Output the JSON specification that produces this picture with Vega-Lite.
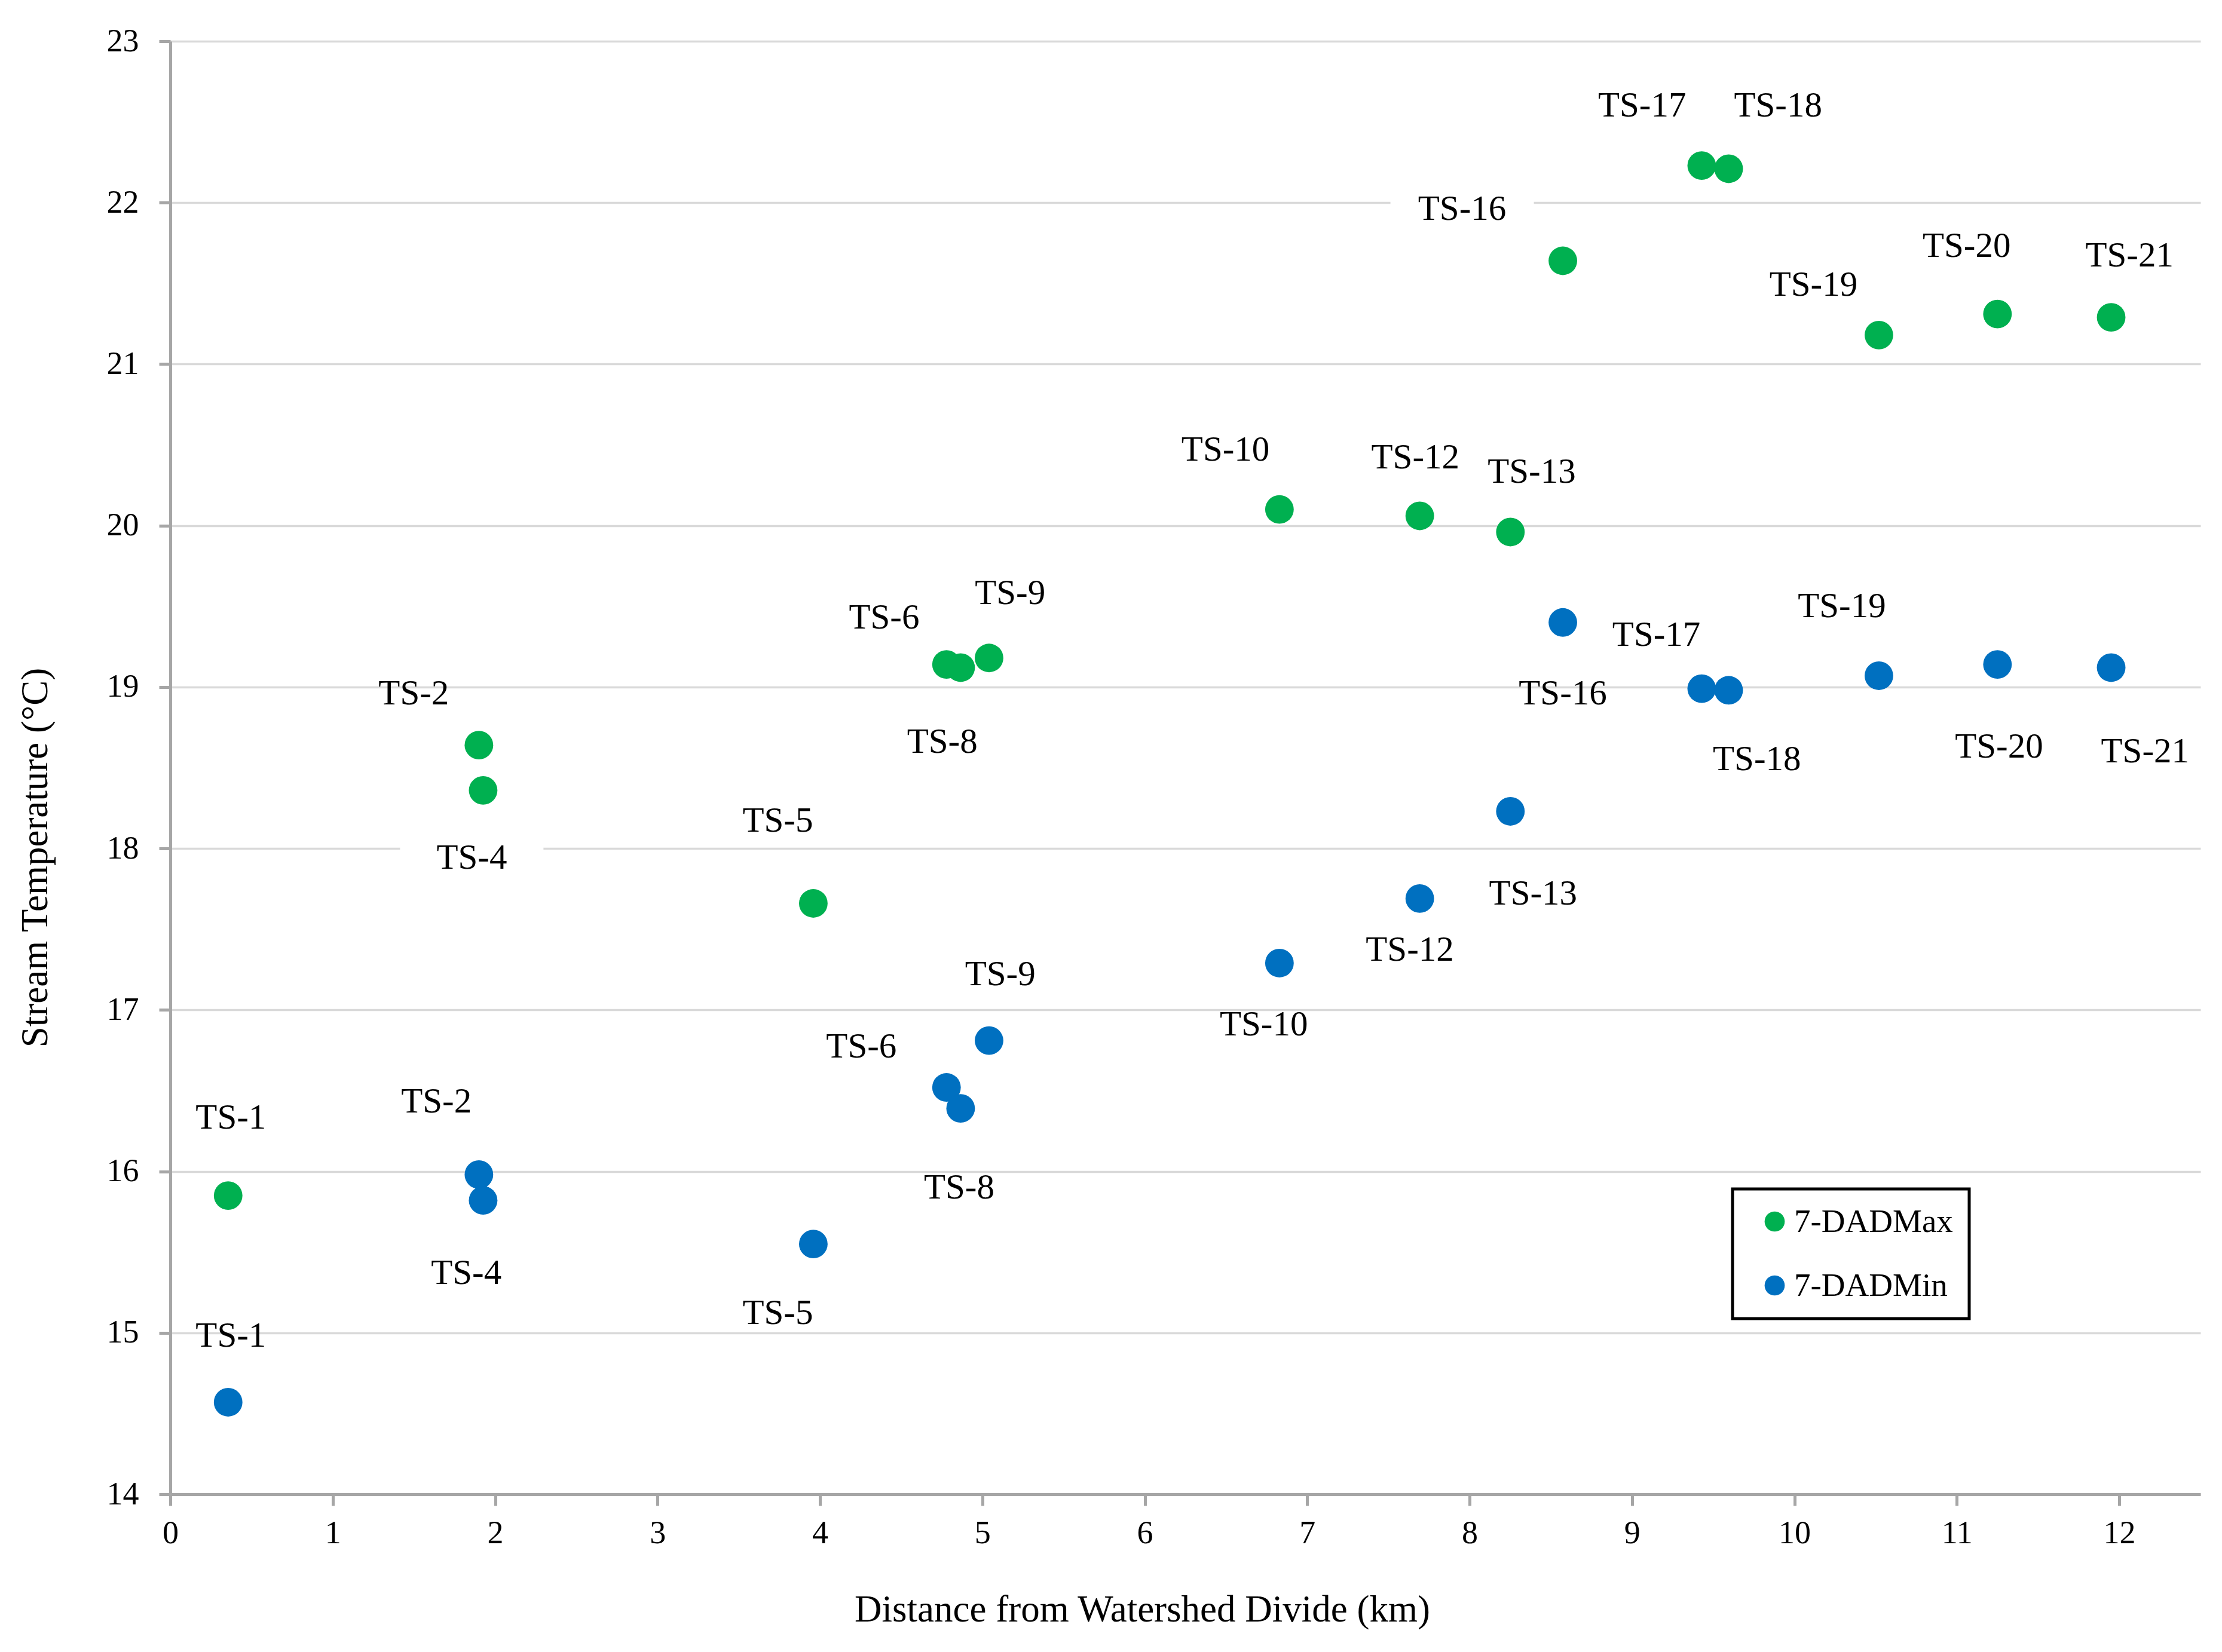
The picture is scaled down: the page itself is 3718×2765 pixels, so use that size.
{
  "$schema": "https://vega.github.io/schema/vega-lite/v6.json",
  "autosize": {"type": "none"},
  "padding": {"left": 285, "top": 69, "right": 36, "bottom": 264},
  "width": 3397,
  "height": 2432,
  "background": "white",
  "config": {
    "view": {"stroke": null},
    "font": "Liberation Serif",
    "axis": {
      "domainColor": "#a6a6a6",
      "domainWidth": 5,
      "tickColor": "#a6a6a6",
      "tickWidth": 5,
      "tickSize": 19,
      "labelFont": "Liberation Serif",
      "labelFontSize": 54,
      "labelColor": "black",
      "labelFlush": false,
      "titleFont": "Liberation Serif",
      "titleFontSize": 63,
      "titleFontWeight": "normal",
      "titleColor": "black",
      "gridColor": "#d9d9d9",
      "gridWidth": 3.5
    },
    "legend": {"strokeWidth": 5}
  },
  "data": {
    "values": [
      {"site": "TS-1", "series": "7-DADMax", "dist": 0.356, "temp": 15.85, "lx": 0.373, "ly": 16.33},
      {"site": "TS-2", "series": "7-DADMax", "dist": 1.900, "temp": 18.64, "lx": 1.499, "ly": 18.96},
      {"site": "TS-4", "series": "7-DADMax", "dist": 1.926, "temp": 18.36, "lx": 1.856, "ly": 17.94},
      {"site": "TS-5", "series": "7-DADMax", "dist": 3.959, "temp": 17.66, "lx": 3.740, "ly": 18.17},
      {"site": "TS-6", "series": "7-DADMax", "dist": 4.779, "temp": 19.14, "lx": 4.395, "ly": 19.43},
      {"site": "TS-8", "series": "7-DADMax", "dist": 4.866, "temp": 19.12, "lx": 4.753, "ly": 18.66},
      {"site": "TS-9", "series": "7-DADMax", "dist": 5.041, "temp": 19.18, "lx": 5.171, "ly": 19.58},
      {"site": "TS-10", "series": "7-DADMax", "dist": 6.829, "temp": 20.10, "lx": 6.497, "ly": 20.47},
      {"site": "TS-12", "series": "7-DADMax", "dist": 7.693, "temp": 20.06, "lx": 7.666, "ly": 20.42},
      {"site": "TS-13", "series": "7-DADMax", "dist": 8.251, "temp": 19.96, "lx": 8.382, "ly": 20.33},
      {"site": "TS-16", "series": "7-DADMax", "dist": 8.574, "temp": 21.64, "lx": 7.954, "ly": 21.96},
      {"site": "TS-17", "series": "7-DADMax", "dist": 9.429, "temp": 22.23, "lx": 9.062, "ly": 22.60},
      {"site": "TS-18", "series": "7-DADMax", "dist": 9.595, "temp": 22.21, "lx": 9.899, "ly": 22.60},
      {"site": "TS-19", "series": "7-DADMax", "dist": 10.52, "temp": 21.18, "lx": 10.117, "ly": 21.49},
      {"site": "TS-20", "series": "7-DADMax", "dist": 11.25, "temp": 21.31, "lx": 11.06, "ly": 21.73},
      {"site": "TS-21", "series": "7-DADMax", "dist": 11.95, "temp": 21.29, "lx": 12.063, "ly": 21.67},
      {"site": "TS-1", "series": "7-DADMin", "dist": 0.356, "temp": 14.57, "lx": 0.373, "ly": 14.98},
      {"site": "TS-2", "series": "7-DADMin", "dist": 1.900, "temp": 15.98, "lx": 1.638, "ly": 16.43},
      {"site": "TS-4", "series": "7-DADMin", "dist": 1.926, "temp": 15.82, "lx": 1.822, "ly": 15.37},
      {"site": "TS-5", "series": "7-DADMin", "dist": 3.959, "temp": 15.55, "lx": 3.740, "ly": 15.12},
      {"site": "TS-6", "series": "7-DADMin", "dist": 4.779, "temp": 16.52, "lx": 4.255, "ly": 16.77},
      {"site": "TS-8", "series": "7-DADMin", "dist": 4.866, "temp": 16.39, "lx": 4.857, "ly": 15.90},
      {"site": "TS-9", "series": "7-DADMin", "dist": 5.041, "temp": 16.81, "lx": 5.110, "ly": 17.22},
      {"site": "TS-10", "series": "7-DADMin", "dist": 6.829, "temp": 17.29, "lx": 6.733, "ly": 16.91},
      {"site": "TS-12", "series": "7-DADMin", "dist": 7.693, "temp": 17.69, "lx": 7.632, "ly": 17.37},
      {"site": "TS-13", "series": "7-DADMin", "dist": 8.251, "temp": 18.23, "lx": 8.391, "ly": 17.72},
      {"site": "TS-16", "series": "7-DADMin", "dist": 8.574, "temp": 19.40, "lx": 8.574, "ly": 18.96},
      {"site": "TS-17", "series": "7-DADMin", "dist": 9.429, "temp": 18.99, "lx": 9.150, "ly": 19.32},
      {"site": "TS-18", "series": "7-DADMin", "dist": 9.595, "temp": 18.98, "lx": 9.769, "ly": 18.55},
      {"site": "TS-19", "series": "7-DADMin", "dist": 10.52, "temp": 19.07, "lx": 10.292, "ly": 19.50},
      {"site": "TS-20", "series": "7-DADMin", "dist": 11.25, "temp": 19.14, "lx": 11.260, "ly": 18.63},
      {"site": "TS-21", "series": "7-DADMin", "dist": 11.95, "temp": 19.12, "lx": 12.159, "ly": 18.60}
    ]
  },
  "layer": [
    {
      "transform": [
        {"filter": "datum.series == '7-DADMax' && indexof(['TS-4', 'TS-5', 'TS-16'], datum.site) >= 0"}
      ],
      "mark": {
        "type": "point",
        "shape": "M-1,-0.35H1V0.35H-1Z",
        "filled": true,
        "fill": "white",
        "opacity": 1,
        "strokeWidth": 0,
        "size": 57600
      },
      "encoding": {
        "x": {"field": "lx", "type": "quantitative"},
        "y": {"field": "ly", "type": "quantitative"}
      }
    },
    {
      "mark": {"type": "point", "filled": true, "shape": "circle", "opacity": 1, "size": 2290},
      "encoding": {
        "x": {
          "field": "dist",
          "type": "quantitative",
          "title": "Distance from Watershed Divide (km)",
          "scale": {"domain": [0, 12.5], "nice": false, "zero": false},
          "axis": {
            "values": [0, 1, 2, 3, 4, 5, 6, 7, 8, 9, 10, 11, 12],
            "format": "d",
            "grid": false,
            "labelPadding": 19,
            "titleX": 1626,
            "titleY": 212,
            "titleAnchor": null,
            "titleAlign": "center",
            "titleBaseline": "alphabetic"
          }
        },
        "y": {
          "field": "temp",
          "type": "quantitative",
          "title": "Stream Temperature (°C)",
          "scale": {"domain": [14, 23], "nice": false, "zero": false},
          "axis": {
            "values": [14, 15, 16, 17, 18, 19, 20, 21, 22, 23],
            "format": "d",
            "grid": true,
            "labelPadding": 34,
            "titleX": -207,
            "titleY": 1366,
            "titleAngle": -90,
            "titleAlign": "center",
            "titleBaseline": "alphabetic"
          }
        },
        "color": {
          "field": "series",
          "type": "nominal",
          "scale": {"domain": ["7-DADMax", "7-DADMin"], "range": ["#00b050", "#0070c0"]},
          "legend": {
            "title": null,
            "orient": "none",
            "legendX": 2614,
            "legendY": 1921,
            "direction": "vertical",
            "symbolType": "circle",
            "symbolSize": 1134,
            "symbolStrokeWidth": 0,
            "symbolOffset": 16,
            "labelOffset": 5,
            "labelLimit": 0,
            "labelFont": "Liberation Serif",
            "labelFontSize": 55,
            "labelColor": "black",
            "rowPadding": 51,
            "padding": 27,
            "strokeColor": "black",
            "fillColor": "white",
            "encode": {
              "legend": {
                "update": {
                  "stroke": {"value": "black"},
                  "strokeWidth": {"value": 5}
                }
              }
            }
          }
        }
      }
    },
    {
      "mark": {
        "type": "text",
        "font": "Liberation Serif",
        "fontSize": 59,
        "color": "black",
        "align": "center",
        "baseline": "middle"
      },
      "encoding": {
        "x": {"field": "lx", "type": "quantitative"},
        "y": {"field": "ly", "type": "quantitative"},
        "text": {"field": "site", "type": "nominal"}
      }
    }
  ]
}
